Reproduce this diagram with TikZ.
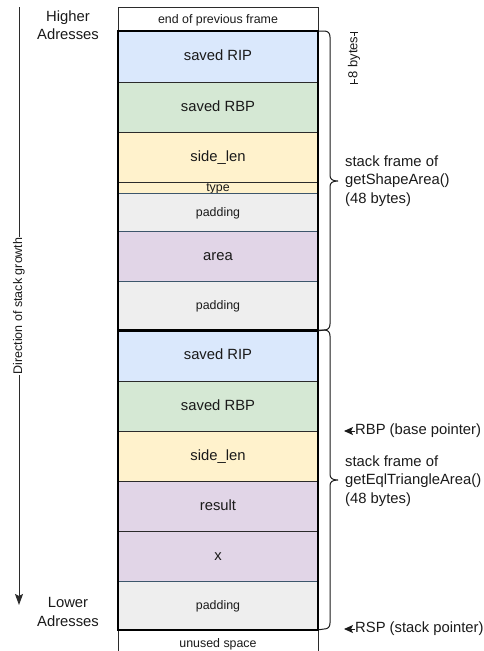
\documentclass[tikz,border=0pt]{standalone}
\usepackage{fontspec}
\setmainfont{Liberation Sans}
\usetikzlibrary{arrows.meta}

\definecolor{cblue}{HTML}{DAE8FC}
\definecolor{cgreen}{HTML}{D5E8D4}
\definecolor{cyellow}{HTML}{FFF2CC}
\definecolor{cpurple}{HTML}{E1D5E7}
\definecolor{cgray}{HTML}{EEEEEE}
\definecolor{cline}{HTML}{2B2B2B}
\definecolor{padline}{HTML}{3C566B}
\definecolor{ink}{HTML}{1A1A1A}

\newcommand{\bigtxt}{\fontsize{14.8}{18.5}\selectfont}
\newcommand{\smalltxt}{\fontsize{12.4}{14}\selectfont}

\begin{document}
\begin{tikzpicture}[x=1pt,y=-1pt,
  cell/.style={draw=cline, line width=0.8pt, minimum width=200pt, inner sep=0pt,
    text height=0.72em, text depth=0pt, font=\bigtxt, text=ink, anchor=north},
  padcell/.style={cell, draw=padline, fill=cgray, font=\smalltxt},
  frame/.style={draw=black, line width=2pt},
  bracestyle/.style={draw=ink, line width=1pt},
  note/.style={font=\bigtxt, text=ink, inner sep=0pt, align=left, anchor=west},
  pointer/.style={draw=ink, line width=1pt, -{Stealth[length=9pt,width=8pt,inset=2pt]}},
]
\useasboundingbox (0,0) rectangle (484,651);
\clip (0,0) rectangle (484,651);

% previous frame and getShapeArea() frame
\node[cell, fill=white, minimum height=24pt, font=\smalltxt] (prev) at (218,7) {end of previous frame};
\node[cell, fill=cblue, minimum height=51pt] (rip1) at (218,31) {saved RIP};
\node[cell, fill=cgreen, minimum height=50pt] (rbp1) at (218,82) {saved RBP};
\node[cell, fill=cyellow, minimum height=50pt] (side1) at (218,132) {side\_len};
\node[cell, fill=cyellow, minimum height=11pt, font=\smalltxt] (type) at (218,182) {type};
\node[cell, fill=cpurple, minimum height=50pt] (area) at (218,231) {area};
\node[padcell, minimum height=38pt] (pad1) at (218,193) {padding};
\node[padcell, minimum height=49pt] (pad2) at (218,281) {padding};

% getEqlTriangleArea() frame
\node[cell, fill=cblue, minimum height=51pt] (rip2) at (218,330) {saved RIP};
\node[cell, fill=cgreen, minimum height=50pt] (rbp2) at (218,381) {saved RBP};
\node[cell, fill=cyellow, minimum height=50pt] (side2) at (218,431) {side\_len};
\node[cell, fill=cpurple, minimum height=50pt] (result) at (218,481) {result};
\node[cell, fill=cpurple, minimum height=50pt] (xvar) at (218,531) {x};
\node[padcell, minimum height=48pt] (pad3) at (218,581) {padding};
\node[cell, fill=white, minimum height=28pt, font=\smalltxt] (unused) at (218,629) {unused space};

% thick outlines of the two stack frames
\draw[frame] (rip1.north west) rectangle (pad2.south east);
\draw[frame] (rip2.north west) rectangle (pad3.south east);

% curly braces
\draw[bracestyle] (rip1.north east) -- (324,31) .. controls (328,31) and (330,33) .. (330,37)
  -- (330,175) .. controls (330,179) and (332,181) .. (338,181)
  .. controls (332,181) and (330,183) .. (330,187)
  -- (330,324) .. controls (330,328) and (328,330) .. (324,330) -- (pad2.south east);
\draw[bracestyle] (rip2.north east) -- (324,330) .. controls (328,330) and (330,332) .. (330,336)
  -- (330,474) .. controls (330,478) and (332,480) .. (338,480)
  .. controls (332,480) and (330,482) .. (330,486)
  -- (330,623) .. controls (330,627) and (328,629) .. (324,629) -- (pad3.south east);

\node[note] (frame1) at (345,181) {stack frame of\\getShapeArea()\\(48 bytes)};
\node[note] (frame2) at (345,481) {stack frame of\\getEqlTriangleArea()\\(48 bytes)};

% size of one slot
\coordinate (dimtop) at (354,32);
\coordinate (dimbot) at (354,83);
\draw[ink, line width=0.8pt] (dimbot) -- node[rotate=90, fill=white, inner sep=1pt, font=\fontsize{13}{14}\selectfont, text=ink] (dimlbl) {8 bytes} (dimtop);
\draw[ink, line width=0.8pt] (350,32) -- (358,32) (350,83) -- (358,83);

% register pointers
\node[note] (rbplbl) at (355,431) {RBP (base pointer)};
\coordinate (rbptip) at (344,431);
\draw[pointer] (rbplbl.west) -- (rbptip);
\node[note] (rsplbl) at (355,629) {RSP (stack pointer)};
\coordinate (rsptip) at (344,629);
\draw[pointer] (rsplbl.west) -- (rsptip);

% address labels
\node[font=\bigtxt, text=ink, align=center, inner sep=0pt] (high) at (68,25) {Higher\\Adresses};
\node[font=\bigtxt, text=ink, align=center, inner sep=0pt] (low) at (68,612) {Lower\\Adresses};

% growth direction
\coordinate (growtop) at (19,7);
\coordinate (growbot) at (19,605);
\draw[draw=cline, line width=1pt, -{Stealth[length=11pt,width=8pt,inset=2pt]}] (growtop) --
  node[rotate=90, fill=white, inner sep=1pt, font=\fontsize{12.5}{14}\selectfont, text=ink] (growlbl) {Direction of stack growth} (growbot);
\end{tikzpicture}
\end{document}
